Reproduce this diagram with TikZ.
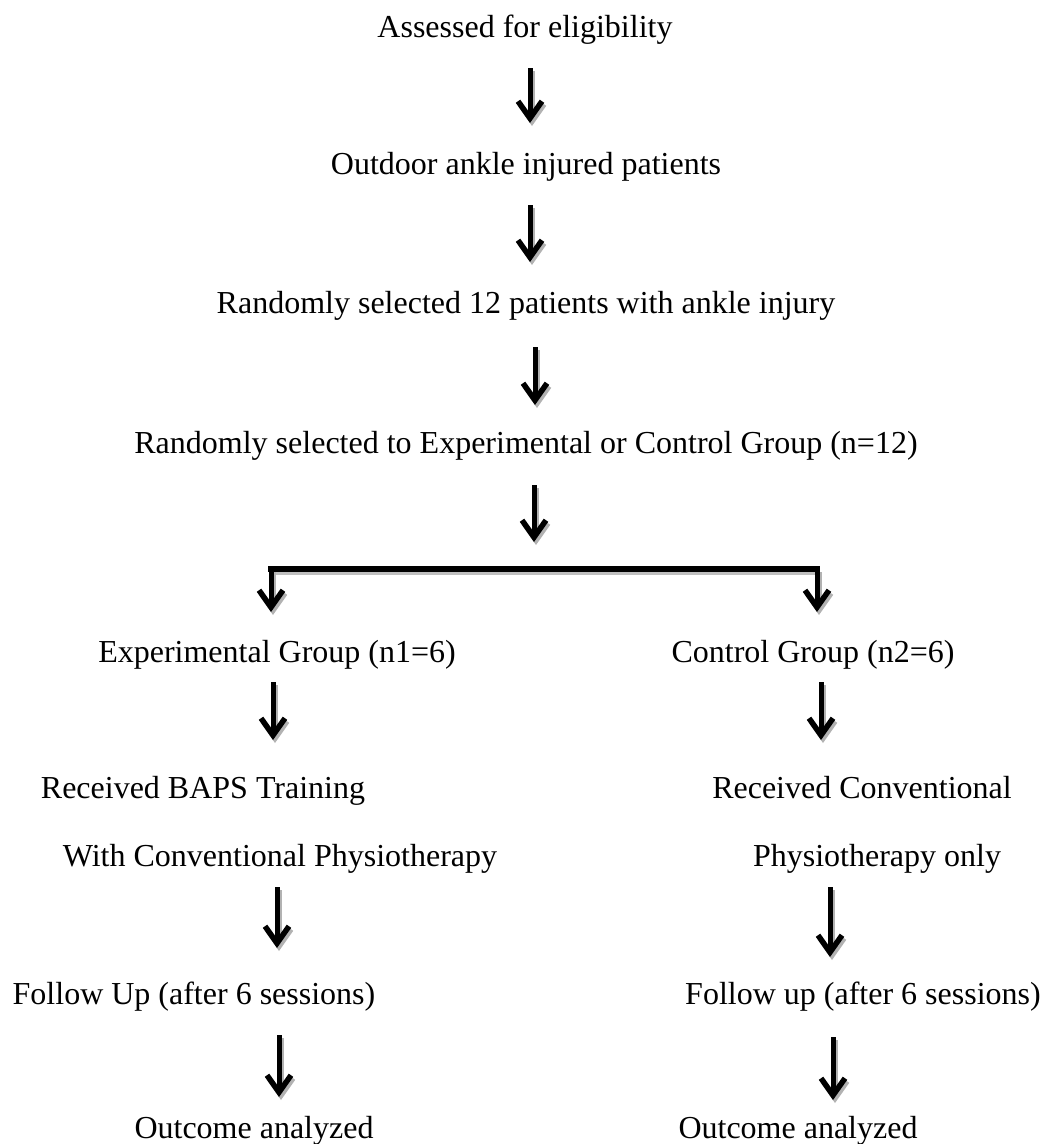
\documentclass[tikz,border=0pt]{standalone}
\usepackage{fontspec}
\setmainfont{Liberation Serif}
\usetikzlibrary{arrows.meta}
\tikzset{
  lbl/.style={anchor=base, inner sep=0pt, font=\fontsize{32}{38}\selectfont},
  arr/.style={line width=5pt, line join=miter, -{Straight Barb[length=17pt,width=24pt,line width=5.5pt]}},
  shad/.style={line width=5pt, line join=miter, draw=black!30, -{Straight Barb[length=17pt,width=24pt,line width=5.5pt]}},
  barline/.style={line width=5.5pt}
}
\newcommand\myarrow[2]{%
  \draw[shad] ([shift={(2,3)}]#1) -- ([shift={(2,3)}]#2);
  \draw[arr] (#1) -- (#2);}
\begin{document}
\begin{tikzpicture}[x=1pt,y=-1pt]
\useasboundingbox (0,0) rectangle (1045,1144);
% texts
\node[lbl] (t1) at (525,37) {Assessed for eligibility};
\node[lbl] (t2) at (526,174) {Outdoor ankle injured patients};
\node[lbl] (t3) at (526,313) {Randomly selected 12 patients with ankle injury};
\node[lbl] (t4) at (526,453) {Randomly selected to Experimental or Control Group (n=12)};
\node[lbl] (e1) at (277,662) {Experimental Group (n1=6)};
\node[lbl] (c1) at (813,662) {Control Group (n2=6)};
\node[lbl] (e2) at (203,798) {Received BAPS Training};
\node[lbl] (c2) at (862,798) {Received Conventional};
\node[lbl] (e3) at (280,866) {With Conventional Physiotherapy};
\node[lbl] (c3) at (877,866) {Physiotherapy only};
\node[lbl] (e4) at (194,1004) {Follow Up (after 6 sessions)};
\node[lbl] (c4) at (863,1004) {Follow up (after 6 sessions)};
\node[lbl] (e5) at (254,1138) {Outcome analyzed};
\node[lbl] (c5) at (798,1138) {Outcome analyzed};
% arrow coordinates
\coordinate (a1s) at (530,68);  \coordinate (a1e) at (530,123);
\coordinate (a2s) at (530,205); \coordinate (a2e) at (530,262);
\coordinate (a3s) at (535,347); \coordinate (a3e) at (535,405);
\coordinate (a4s) at (534,485); \coordinate (a4e) at (534,542);
\coordinate (bl) at (271,569);  \coordinate (br) at (817,569);
\coordinate (blt) at (271,612); \coordinate (brt) at (817,612);
\coordinate (l1s) at (273,682); \coordinate (l1e) at (273,740);
\coordinate (r1s) at (821,682); \coordinate (r1e) at (821,740);
\coordinate (l2s) at (277,887); \coordinate (l2e) at (277,948);
\coordinate (r2s) at (830,887); \coordinate (r2e) at (830,957);
\coordinate (l3s) at (279,1035); \coordinate (l3e) at (279,1097);
\coordinate (r3s) at (833,1037); \coordinate (r3e) at (833,1100);
% arrows
\myarrow{a1s}{a1e}
\myarrow{a2s}{a2e}
\myarrow{a3s}{a3e}
\myarrow{a4s}{a4e}
% branch
\draw[barline, draw=black!25] ([shift={(0,3)}]bl) -- ([shift={(0,3)}]br);
\draw[shad] ([shift={(2,3)}]bl) -- ([shift={(2,3)}]blt);
\draw[shad] ([shift={(2,3)}]br) -- ([shift={(2,3)}]brt);
\draw[barline, line cap=rect] (bl) -- (br);
\draw[arr] ([shift={(0,-2.75)}]bl) -- (blt);
\draw[arr] ([shift={(0,-2.75)}]br) -- (brt);
\myarrow{l1s}{l1e}
\myarrow{r1s}{r1e}
\myarrow{l2s}{l2e}
\myarrow{r2s}{r2e}
\myarrow{l3s}{l3e}
\myarrow{r3s}{r3e}
\end{tikzpicture}
\end{document}
